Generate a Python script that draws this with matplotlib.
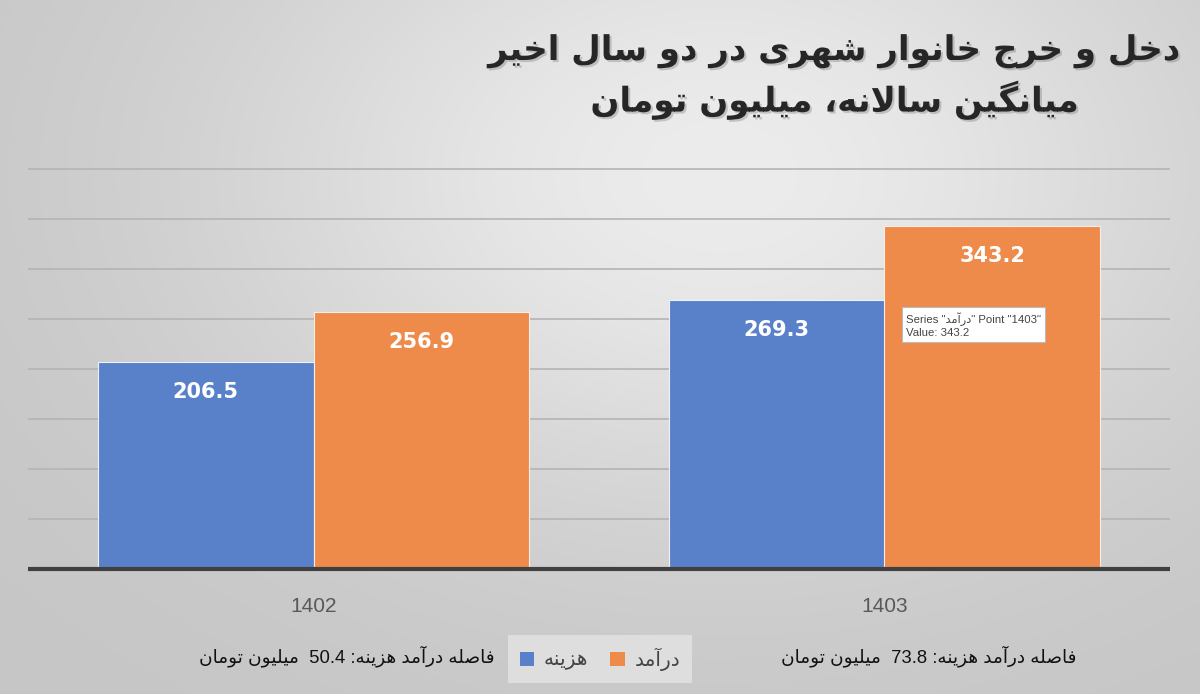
import re

import numpy as np
import matplotlib
matplotlib.use('Agg')
import matplotlib.pyplot as plt
import matplotlib.patheffects as pe
from matplotlib.patches import Patch

# داده‌ها
years = ['1402', '1403']
cost = [206.5, 269.3]       # هزینه
income = [256.9, 343.2]     # درآمد
gaps = [50.4, 73.8]         # فاصله درآمد و هزینه
series_names = ['هزینه', 'درآمد']
title_lines = ['دخل و خرج خانوار شهری در دو سال اخیر', 'میانگین سالانه، میلیون تومان']
gap_text = 'فاصله درآمد هزینه: {}  میلیون تومان'
y_ticks = [50, 100, 150, 200, 250, 300, 350, 400]

# شکل‌دهی ساده حروف فارسی (matplotlib خودش اتصال حروف را انجام نمی‌دهد)
RIGHT = {'ا': 0xFE8D, 'آ': 0xFE81, 'د': 0xFEA9, 'ذ': 0xFEAB, 'ر': 0xFEAD,
         'ز': 0xFEAF, 'ژ': 0xFB8A, 'و': 0xFEED}
DUAL = {'ب': 0xFE8F, 'پ': 0xFB56, 'ت': 0xFE95, 'ث': 0xFE99, 'ج': 0xFE9D,
        'چ': 0xFB7A, 'ح': 0xFEA1, 'خ': 0xFEA5, 'س': 0xFEB1, 'ش': 0xFEB5,
        'ص': 0xFEB9, 'ض': 0xFEBD, 'ط': 0xFEC1, 'ظ': 0xFEC5, 'ع': 0xFEC9,
        'غ': 0xFECD, 'ف': 0xFED1, 'ق': 0xFED5, 'ک': 0xFB8E, 'گ': 0xFB92,
        'ل': 0xFEDD, 'م': 0xFEE1, 'ن': 0xFEE5, 'ه': 0xFEE9, 'ی': 0xFBFC}
LAM_ALEF = {'ا': 0xFEFB, 'آ': 0xFEF5}


def shape(s):
    out = []
    prev = False
    i = 0
    while i < len(s):
        c = s[i]
        nxt = s[i + 1] if i + 1 < len(s) else ''
        if c == 'ل' and nxt in LAM_ALEF:
            out.append(chr(LAM_ALEF[nxt] + (1 if prev else 0)))
            prev = False
            i += 2
            continue
        if c in DUAL:
            jn = nxt in DUAL or nxt in RIGHT
            form = (3 if jn else 1) if prev else (2 if jn else 0)
            out.append(chr(DUAL[c] + form))
            prev = jn
        elif c in RIGHT:
            out.append(chr(RIGHT[c] + (1 if prev else 0)))
            prev = False
        else:
            out.append(c)
            prev = False
        i += 1
    return ''.join(out)


def rtl(s):
    r = shape(s)[::-1]
    return re.sub(r'[0-9.]+', lambda m: m.group(0)[::-1], r)


plt.rcParams['font.family'] = ['Liberation Sans', 'DejaVu Sans']

fig = plt.figure(figsize=(12, 6.94), dpi=100)

# پس‌زمینه خاکستری با گرادیان
bg = fig.add_axes([0, 0, 1, 1], zorder=-10)
gx, gy = np.meshgrid(np.linspace(0, 1, 400), np.linspace(1, 0, 240))
val = 0.775 + 0.15 * np.exp(-((gx - 0.6) ** 2 / 0.18 + (gy - 0.75) ** 2 / 0.25))
bg.imshow(np.dstack([val, val, val]), extent=[0, 1, 0, 1], aspect='auto')
bg.axis('off')

ax = fig.add_axes([28 / 1200, 1 - 569 / 694, 1142 / 1200, 410 / 694])
ax.set_facecolor('none')

x = np.arange(len(years))
w = 0.377
b1 = ax.bar(x - w / 2, cost, w, color='#5881CA', edgecolor='#eef2f8', linewidth=0.8, zorder=3)
b2 = ax.bar(x + w / 2, income, w, color='#EE8B4B', edgecolor='#f8eee6', linewidth=0.8, zorder=3)

for bars, vals in [(b1, cost), (b2, income)]:
    for r, v in zip(bars, vals):
        ax.text(r.get_x() + r.get_width() / 2, v - 30, '{:.1f}'.format(v), ha='center', va='center',
                color='white', fontsize=15, fontweight='bold', family='DejaVu Sans', zorder=4)

for yt in y_ticks:
    ax.axhline(yt, color='#b4b4b4', lw=1.2, zorder=1)
ax.axhline(0, color='#404040', lw=3, zorder=5, clip_on=False, solid_capstyle='butt')

ax.set_xlim(-0.5, 1.5)
ax.set_ylim(0, 410)
ax.set_xticks(x)
ax.set_xticklabels(years, fontsize=15, color='#595959')
ax.tick_params(axis='x', length=0, pad=20)
ax.set_yticks([])
for sp in ax.spines.values():
    sp.set_visible(False)

# عنوان
fig.text(1180 / 1200, 1 - 34 / 694, rtl(title_lines[0]) + '\n' + rtl(title_lines[1]),
         ha='right', va='top', multialignment='center', fontsize=24.5, fontweight='bold',
         color='#262626', family='DejaVu Sans', linespacing=1.4,
         path_effects=[pe.withSimplePatchShadow(offset=(1.5, -1.5), shadow_rgbFace='#666666', alpha=0.3)])

# یادداشت فاصله
for cx, g in zip([347 / 1200, 929 / 1200], gaps):
    fig.text(cx, 1 - 656 / 694, rtl(gap_text.format(g)), ha='center', va='center',
             fontsize=13.3, color='#111111')

# راهنما
handles = [Patch(facecolor='#5881CA'), Patch(facecolor='#EE8B4B')]
leg = fig.legend(handles, [rtl(n) for n in series_names], loc='center', ncol=2,
                 bbox_to_anchor=(0.5, 1 - 659 / 694), frameon=True, fontsize=14.5,
                 handlelength=0.7, handleheight=0.7, handletextpad=0.5,
                 columnspacing=1.1, borderpad=0.6, borderaxespad=0)
leg.get_frame().set_facecolor('#e4e4e4')
leg.get_frame().set_edgecolor('none')
leg.get_frame().set_boxstyle('square', pad=0)
for t in leg.get_texts():
    t.set_color('#444444')

# راهنمای موس (tooltip) روی ستون
fig.text(906 / 1200, 1 - 325 / 694, 'Series "' + rtl(series_names[1]) + '" Point "1403"\nValue: 343.2',
         ha='left', va='center', fontsize=8.2, color='#444444', linespacing=1.3,
         bbox=dict(boxstyle='square,pad=0.35', facecolor='white', edgecolor='#bbbbbb', lw=0.8))

fig.savefig('out.png', dpi=100)
